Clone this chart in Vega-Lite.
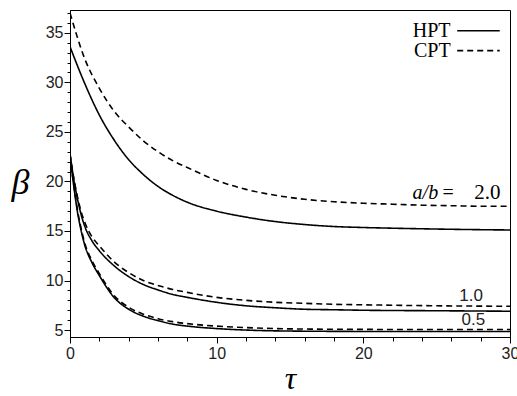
{
  "$schema": "https://vega.github.io/schema/vega-lite/v6.json",
  "width": 440,
  "height": 327,
  "autosize": "none",
  "padding": {"left": 70, "top": 10, "right": 7, "bottom": 59},
  "background": "white",
  "config": {
    "view": {"stroke": "black", "strokeWidth": 1},
    "axis": {"grid": false, "domainColor": "black", "tickColor": "black", "labelFont": "Liberation Sans", "labelFontSize": 16, "labelColor": "#222", "titleFont": "Liberation Serif", "titleFontStyle": "italic", "titleFontWeight": "normal", "titleColor": "black"}
  },
  "resolve": {"axis": {"x": "independent", "y": "independent"}},
  "data": {
    "values": [
      {"tau": 0, "beta": 33.6, "model": "HPT", "ratio": "2.0"},
      {"tau": 1, "beta": 29.9, "model": "HPT", "ratio": "2.0"},
      {"tau": 2, "beta": 26.7, "model": "HPT", "ratio": "2.0"},
      {"tau": 3, "beta": 24.2, "model": "HPT", "ratio": "2.0"},
      {"tau": 4, "beta": 22.2, "model": "HPT", "ratio": "2.0"},
      {"tau": 5, "beta": 20.7, "model": "HPT", "ratio": "2.0"},
      {"tau": 6, "beta": 19.5, "model": "HPT", "ratio": "2.0"},
      {"tau": 7, "beta": 18.6, "model": "HPT", "ratio": "2.0"},
      {"tau": 8, "beta": 17.9, "model": "HPT", "ratio": "2.0"},
      {"tau": 10, "beta": 17.0, "model": "HPT", "ratio": "2.0"},
      {"tau": 12, "beta": 16.4, "model": "HPT", "ratio": "2.0"},
      {"tau": 14, "beta": 15.95, "model": "HPT", "ratio": "2.0"},
      {"tau": 16, "beta": 15.65, "model": "HPT", "ratio": "2.0"},
      {"tau": 18, "beta": 15.45, "model": "HPT", "ratio": "2.0"},
      {"tau": 20, "beta": 15.35, "model": "HPT", "ratio": "2.0"},
      {"tau": 22, "beta": 15.28, "model": "HPT", "ratio": "2.0"},
      {"tau": 24, "beta": 15.22, "model": "HPT", "ratio": "2.0"},
      {"tau": 26, "beta": 15.17, "model": "HPT", "ratio": "2.0"},
      {"tau": 28, "beta": 15.13, "model": "HPT", "ratio": "2.0"},
      {"tau": 30, "beta": 15.1, "model": "HPT", "ratio": "2.0"},

      {"tau": 0, "beta": 37.0, "model": "CPT", "ratio": "2.0"},
      {"tau": 1, "beta": 32.4, "model": "CPT", "ratio": "2.0"},
      {"tau": 2, "beta": 29.4, "model": "CPT", "ratio": "2.0"},
      {"tau": 3, "beta": 27.1, "model": "CPT", "ratio": "2.0"},
      {"tau": 4, "beta": 25.5, "model": "CPT", "ratio": "2.0"},
      {"tau": 5, "beta": 24.1, "model": "CPT", "ratio": "2.0"},
      {"tau": 6, "beta": 23.0, "model": "CPT", "ratio": "2.0"},
      {"tau": 7, "beta": 22.1, "model": "CPT", "ratio": "2.0"},
      {"tau": 8, "beta": 21.4, "model": "CPT", "ratio": "2.0"},
      {"tau": 10, "beta": 20.1, "model": "CPT", "ratio": "2.0"},
      {"tau": 12, "beta": 19.2, "model": "CPT", "ratio": "2.0"},
      {"tau": 14, "beta": 18.6, "model": "CPT", "ratio": "2.0"},
      {"tau": 16, "beta": 18.2, "model": "CPT", "ratio": "2.0"},
      {"tau": 18, "beta": 17.95, "model": "CPT", "ratio": "2.0"},
      {"tau": 20, "beta": 17.8, "model": "CPT", "ratio": "2.0"},
      {"tau": 22, "beta": 17.7, "model": "CPT", "ratio": "2.0"},
      {"tau": 24, "beta": 17.6, "model": "CPT", "ratio": "2.0"},
      {"tau": 26, "beta": 17.55, "model": "CPT", "ratio": "2.0"},
      {"tau": 28, "beta": 17.5, "model": "CPT", "ratio": "2.0"},
      {"tau": 30, "beta": 17.5, "model": "CPT", "ratio": "2.0"},

      {"tau": 0, "beta": 22.7, "model": "HPT", "ratio": "1.0"},
      {"tau": 0.25, "beta": 20.3, "model": "HPT", "ratio": "1.0"},
      {"tau": 0.5, "beta": 18.3, "model": "HPT", "ratio": "1.0"},
      {"tau": 0.75, "beta": 16.7, "model": "HPT", "ratio": "1.0"},
      {"tau": 1, "beta": 15.5, "model": "HPT", "ratio": "1.0"},
      {"tau": 1.5, "beta": 14.0, "model": "HPT", "ratio": "1.0"},
      {"tau": 2, "beta": 13.0, "model": "HPT", "ratio": "1.0"},
      {"tau": 3, "beta": 11.5, "model": "HPT", "ratio": "1.0"},
      {"tau": 4, "beta": 10.4, "model": "HPT", "ratio": "1.0"},
      {"tau": 5, "beta": 9.6, "model": "HPT", "ratio": "1.0"},
      {"tau": 6, "beta": 9.05, "model": "HPT", "ratio": "1.0"},
      {"tau": 7, "beta": 8.6, "model": "HPT", "ratio": "1.0"},
      {"tau": 8, "beta": 8.3, "model": "HPT", "ratio": "1.0"},
      {"tau": 10, "beta": 7.8, "model": "HPT", "ratio": "1.0"},
      {"tau": 12, "beta": 7.45, "model": "HPT", "ratio": "1.0"},
      {"tau": 14, "beta": 7.25, "model": "HPT", "ratio": "1.0"},
      {"tau": 16, "beta": 7.1, "model": "HPT", "ratio": "1.0"},
      {"tau": 18, "beta": 7.05, "model": "HPT", "ratio": "1.0"},
      {"tau": 20, "beta": 7.0, "model": "HPT", "ratio": "1.0"},
      {"tau": 25, "beta": 6.95, "model": "HPT", "ratio": "1.0"},
      {"tau": 30, "beta": 6.9, "model": "HPT", "ratio": "1.0"},

      {"tau": 0, "beta": 22.8, "model": "CPT", "ratio": "1.0"},
      {"tau": 0.25, "beta": 20.4, "model": "CPT", "ratio": "1.0"},
      {"tau": 0.5, "beta": 18.5, "model": "CPT", "ratio": "1.0"},
      {"tau": 0.75, "beta": 17.0, "model": "CPT", "ratio": "1.0"},
      {"tau": 1, "beta": 15.9, "model": "CPT", "ratio": "1.0"},
      {"tau": 1.5, "beta": 14.4, "model": "CPT", "ratio": "1.0"},
      {"tau": 2, "beta": 13.5, "model": "CPT", "ratio": "1.0"},
      {"tau": 3, "beta": 11.9, "model": "CPT", "ratio": "1.0"},
      {"tau": 4, "beta": 10.8, "model": "CPT", "ratio": "1.0"},
      {"tau": 5, "beta": 10.0, "model": "CPT", "ratio": "1.0"},
      {"tau": 6, "beta": 9.5, "model": "CPT", "ratio": "1.0"},
      {"tau": 7, "beta": 9.1, "model": "CPT", "ratio": "1.0"},
      {"tau": 8, "beta": 8.8, "model": "CPT", "ratio": "1.0"},
      {"tau": 10, "beta": 8.3, "model": "CPT", "ratio": "1.0"},
      {"tau": 12, "beta": 8.0, "model": "CPT", "ratio": "1.0"},
      {"tau": 14, "beta": 7.8, "model": "CPT", "ratio": "1.0"},
      {"tau": 16, "beta": 7.7, "model": "CPT", "ratio": "1.0"},
      {"tau": 18, "beta": 7.6, "model": "CPT", "ratio": "1.0"},
      {"tau": 20, "beta": 7.55, "model": "CPT", "ratio": "1.0"},
      {"tau": 25, "beta": 7.45, "model": "CPT", "ratio": "1.0"},
      {"tau": 30, "beta": 7.4, "model": "CPT", "ratio": "1.0"},

      {"tau": 0, "beta": 22.6, "model": "HPT", "ratio": "0.5"},
      {"tau": 0.25, "beta": 19.6, "model": "HPT", "ratio": "0.5"},
      {"tau": 0.5, "beta": 17.0, "model": "HPT", "ratio": "0.5"},
      {"tau": 0.75, "beta": 15.1, "model": "HPT", "ratio": "0.5"},
      {"tau": 1, "beta": 13.6, "model": "HPT", "ratio": "0.5"},
      {"tau": 1.5, "beta": 11.8, "model": "HPT", "ratio": "0.5"},
      {"tau": 2, "beta": 10.5, "model": "HPT", "ratio": "0.5"},
      {"tau": 3, "beta": 8.3, "model": "HPT", "ratio": "0.5"},
      {"tau": 4, "beta": 7.1, "model": "HPT", "ratio": "0.5"},
      {"tau": 5, "beta": 6.4, "model": "HPT", "ratio": "0.5"},
      {"tau": 6, "beta": 5.95, "model": "HPT", "ratio": "0.5"},
      {"tau": 7, "beta": 5.6, "model": "HPT", "ratio": "0.5"},
      {"tau": 8, "beta": 5.4, "model": "HPT", "ratio": "0.5"},
      {"tau": 10, "beta": 5.15, "model": "HPT", "ratio": "0.5"},
      {"tau": 12, "beta": 5.0, "model": "HPT", "ratio": "0.5"},
      {"tau": 15, "beta": 4.9, "model": "HPT", "ratio": "0.5"},
      {"tau": 20, "beta": 4.86, "model": "HPT", "ratio": "0.5"},
      {"tau": 25, "beta": 4.85, "model": "HPT", "ratio": "0.5"},
      {"tau": 30, "beta": 4.85, "model": "HPT", "ratio": "0.5"},

      {"tau": 0, "beta": 22.7, "model": "CPT", "ratio": "0.5"},
      {"tau": 0.25, "beta": 19.7, "model": "CPT", "ratio": "0.5"},
      {"tau": 0.5, "beta": 17.2, "model": "CPT", "ratio": "0.5"},
      {"tau": 0.75, "beta": 15.3, "model": "CPT", "ratio": "0.5"},
      {"tau": 1, "beta": 13.8, "model": "CPT", "ratio": "0.5"},
      {"tau": 1.5, "beta": 12.0, "model": "CPT", "ratio": "0.5"},
      {"tau": 2, "beta": 10.7, "model": "CPT", "ratio": "0.5"},
      {"tau": 3, "beta": 8.5, "model": "CPT", "ratio": "0.5"},
      {"tau": 4, "beta": 7.3, "model": "CPT", "ratio": "0.5"},
      {"tau": 5, "beta": 6.6, "model": "CPT", "ratio": "0.5"},
      {"tau": 6, "beta": 6.15, "model": "CPT", "ratio": "0.5"},
      {"tau": 7, "beta": 5.85, "model": "CPT", "ratio": "0.5"},
      {"tau": 8, "beta": 5.65, "model": "CPT", "ratio": "0.5"},
      {"tau": 10, "beta": 5.4, "model": "CPT", "ratio": "0.5"},
      {"tau": 12, "beta": 5.25, "model": "CPT", "ratio": "0.5"},
      {"tau": 15, "beta": 5.12, "model": "CPT", "ratio": "0.5"},
      {"tau": 20, "beta": 5.07, "model": "CPT", "ratio": "0.5"},
      {"tau": 25, "beta": 5.05, "model": "CPT", "ratio": "0.5"},
      {"tau": 30, "beta": 5.05, "model": "CPT", "ratio": "0.5"}
    ]
  },
  "layer": [
    {
      "mark": {"type": "point", "opacity": 0},
      "encoding": {
        "x": {"field": "tau", "type": "quantitative", "scale": {"domain": [0, 30], "nice": false},
          "axis": {"orient": "bottom", "values": [2, 4, 6, 8, 12, 14, 16, 18, 22, 24, 26, 28], "labels": false, "tickSize": 4, "domain": false, "title": null}},
        "y": {"field": "beta", "type": "quantitative", "scale": {"domain": [4.3, 37.3], "nice": false, "zero": false},
          "axis": {"orient": "left", "values": [6, 7, 8, 9, 11, 12, 13, 14, 16, 17, 18, 19, 21, 22, 23, 24, 26, 27, 28, 29, 31, 32, 33, 34, 36, 37], "labels": false, "tickSize": 3, "domain": false, "title": null}}
      }
    },
    {
      "mark": {"type": "line", "color": "black", "strokeWidth": 1.6, "interpolate": "monotone", "clip": true},
      "encoding": {
        "x": {"field": "tau", "type": "quantitative",
          "axis": {"orient": "bottom", "values": [0, 10, 20, 30], "tickSize": 6, "labelPadding": 2, "labelFlush": false, "labelOverlap": false, "title": "τ", "titleFontSize": 32, "titlePadding": 2}},
        "y": {"field": "beta", "type": "quantitative",
          "axis": {"orient": "left", "values": [5, 10, 15, 20, 25, 30, 35], "tickSize": 6, "labelPadding": 1, "labelOverlap": false, "labelFlush": false,
            "title": "β", "titleFontSize": 36, "titleAngle": 0, "titleAlign": "center", "titleBaseline": "middle", "titleX": -50, "titleY": 172}},
        "detail": {"field": "ratio"},
        "strokeDash": {"field": "model", "type": "nominal", "scale": {"domain": ["HPT", "CPT"], "range": [[1, 0], [6, 4]]}, "legend": null}
      }
    },
    {
      "data": {"values": [{"model": "HPT"}]},
      "mark": {"type": "rule", "color": "black", "strokeWidth": 1.6},
      "encoding": {"x": {"datum": 26.4, "axis": null}, "x2": {"datum": 29.3}, "y": {"datum": 35.2, "axis": null}}
    },
    {
      "data": {"values": [{"model": "CPT"}]},
      "mark": {"type": "rule", "color": "black", "strokeWidth": 1.6, "strokeDash": [6, 4]},
      "encoding": {"x": {"datum": 26.4, "axis": null}, "x2": {"datum": 29.3}, "y": {"datum": 33.2, "axis": null}}
    },
    {
      "data": {"values": [{"model": "HPT"}]},
      "mark": {"type": "text", "font": "Liberation Serif", "fontSize": 20, "align": "right", "baseline": "middle", "color": "black"},
      "encoding": {"x": {"datum": 25.95, "axis": null}, "y": {"datum": 35.2, "axis": null}, "text": {"field": "model"}}
    },
    {
      "data": {"values": [{"model": "CPT"}]},
      "mark": {"type": "text", "font": "Liberation Serif", "fontSize": 20, "align": "right", "baseline": "middle", "color": "black"},
      "encoding": {"x": {"datum": 25.95, "axis": null}, "y": {"datum": 33.2, "axis": null}, "text": {"field": "model"}}
    },
    {
      "data": {"values": [{"label": "2.0"}]},
      "mark": {"type": "text", "font": "Liberation Serif", "fontSize": 21, "align": "right", "baseline": "middle", "color": "black"},
      "encoding": {"x": {"datum": 29.35, "axis": null}, "y": {"datum": 18.8, "axis": null}, "text": {"field": "label"}}
    },
    {
      "data": {"values": [{"label": "="}]},
      "mark": {"type": "text", "font": "Liberation Serif", "fontSize": 20, "align": "left", "baseline": "middle", "color": "black"},
      "encoding": {"x": {"datum": 25.4, "axis": null}, "y": {"datum": 18.8, "axis": null}, "text": {"field": "label"}}
    },
    {
      "data": {"values": [{"label": "a/b"}]},
      "mark": {"type": "text", "font": "Liberation Serif", "fontSize": 20, "fontStyle": "italic", "align": "right", "baseline": "middle", "color": "black"},
      "encoding": {"x": {"datum": 25.1, "axis": null}, "y": {"datum": 18.8, "axis": null}, "text": {"field": "label"}}
    },
    {
      "data": {"values": [{"label": "1.0"}]},
      "mark": {"type": "text", "font": "Liberation Sans", "fontSize": 17, "align": "center", "baseline": "middle", "color": "#222"},
      "encoding": {"x": {"datum": 27.35, "axis": null}, "y": {"datum": 8.45, "axis": null}, "text": {"field": "label"}}
    },
    {
      "data": {"values": [{"label": "0.5"}]},
      "mark": {"type": "text", "font": "Liberation Sans", "fontSize": 17, "align": "center", "baseline": "middle", "color": "#222"},
      "encoding": {"x": {"datum": 27.5, "axis": null}, "y": {"datum": 6.0, "axis": null}, "text": {"field": "label"}}
    }
  ]
}
